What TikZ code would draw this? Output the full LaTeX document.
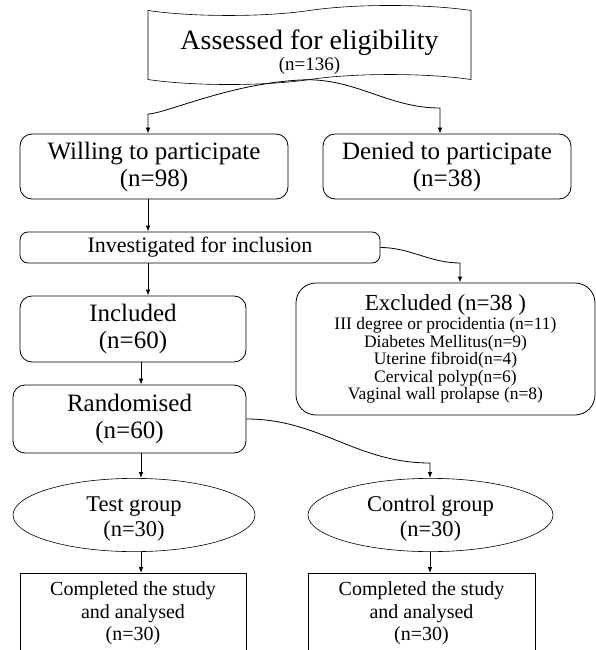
\documentclass[tikz,border=0pt]{standalone}
\usepackage{fontspec}
\setmainfont{Liberation Serif}
\usetikzlibrary{arrows.meta,shapes.geometric,shapes.symbols}
\tikzset{
  flag/.style={draw=black,tape,line width=0.6pt,tape bend height=10pt,align=center,inner sep=0pt},
  rbox/.style={draw=black,rounded corners=12pt,line width=0.8pt,align=center,inner sep=0pt,
    font=\fontsize{25}{27}\selectfont},
  oval/.style={draw=black,ellipse,line width=0.6pt,align=center,inner sep=0pt,
    minimum width=242pt,minimum height=70pt,font=\fontsize{22.5}{25}\selectfont},
  sqbox/.style={draw=black,line width=0.8pt,align=center,inner sep=0pt,anchor=north,
    minimum width=226pt,minimum height=80pt,font=\fontsize{20}{22.5}\selectfont},
  arr/.style={draw=black,line width=0.8pt,-{Latex[length=6pt,width=4.5pt]}},
}

\begin{document}
\begin{tikzpicture}[x=1pt,y=-1pt]
\useasboundingbox (0,0) rectangle (596,650);
\node[flag,minimum width=323pt,minimum height=72pt,font=\fontsize{28}{30}\selectfont] (ae) at (309.5,45)
  {\rule{0pt}{34pt}Assessed for eligibility\\[-9pt]{\fontsize{19}{19}\selectfont (n=136)}};
\node[rbox,minimum width=268pt,minimum height=65pt] (wp) at (154,166.5) {Willing to participate\\(n=98)};
\node[rbox,minimum width=248pt,minimum height=65pt] (dp) at (447,166.5) {Denied to participate\\(n=38)};
\node[rbox,rounded corners=8pt,minimum width=360pt,minimum height=31pt,
  font=\fontsize{22}{24}\selectfont] (inv) at (200,247.5) {Investigated for inclusion};
\node[rbox,rounded corners=20pt,minimum width=299pt,minimum height=132pt,
  font=\fontsize{17.5}{17.5}\selectfont] (exc) at (445.5,349)
  {{\fontsize{23}{23}\selectfont Excluded (n=38 )}\\[2pt]
   III degree or procidentia (n=11)\\ Diabetes Mellitus(n=9)\\ Uterine fibroid(n=4)\\
   Cervical polyp(n=6)\\ Vaginal wall prolapse (n=8)};
\node[rbox,minimum width=226pt,minimum height=66pt] (inc) at (133,329) {Included\\(n=60)};
\node[rbox,minimum width=233pt,minimum height=68pt] (rnd) at (129.5,419) {Randomised\\(n=60)};
\node[oval] (tg) at (134,515) {\rule{0pt}{22pt}Test group\\(n=30)};
\node[oval,minimum width=245pt] (cg) at (430.5,515) {\rule{0pt}{22pt}Control group\\(n=30)};
\node[sqbox] (tc) at (133,573) {Completed the study\\and analysed\\(n=30)};
\node[sqbox,minimum width=227pt] (cc) at (421.5,573) {Completed the study\\and analysed\\(n=30)};
\coordinate (lb) at (148,114);
\coordinate (rb) at (440,108);
\coordinate (eb) at (460,263);
\coordinate (cb) at (430,463);
\coordinate (ux) at (148,0);
\coordinate (vx) at (141,0);
\draw[arr] (ae.south) .. controls (235,81) and (165,114) .. (lb) -- (wp.north -| lb);
\draw[arr] (ae.south) .. controls (360,81) and (390,108) .. (rb) -- (dp.north -| rb);
\draw[arr] (wp.south -| ux) -- (inv.north -| ux);
\draw[arr] (inv.south -| ux) -- (inc.north -| ux);
\draw[arr] (inv.east) .. controls (410,247.5) and (430,263) .. (eb) -- (exc.north -| eb);
\draw[arr] (inc.south -| vx) -- (rnd.north -| vx);
\draw[arr] (rnd.south -| vx) -- (tg.north -| vx);
\draw[arr] (rnd.east) .. controls (320,419) and (356,463) .. (cb) -- (cg.north -| cb);
\draw[arr] (tg.south -| vx) -- (tc.north -| vx);
\draw[arr] (cg.south -| cb) -- (cc.north -| cb);
\end{tikzpicture}
\end{document}
